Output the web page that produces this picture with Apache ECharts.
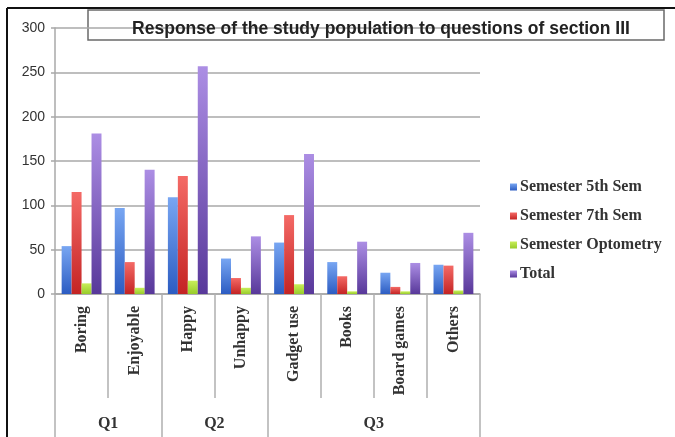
<!DOCTYPE html>
<html>
<head>
<meta charset="utf-8">
<script src="https://cdn.jsdelivr.net/npm/echarts@6/dist/echarts.min.js"></script>
<style>
  html, body { margin: 0; padding: 0; background: #fff; }
  #chart { width: 675px; height: 437px; }
</style>
</head>
<body>
<div id="chart"></div>
<script>
// Answers per option, by semester group
const categories = ['Boring', 'Enjoyable', 'Happy', 'Unhappy', 'Gadget use', 'Books', 'Board games', 'Others'];
const sem5 = [54, 97, 109, 40, 58, 36, 24, 33];
const sem7 = [115, 36, 133, 18, 89, 20, 8, 32];
const optometry = [12, 7, 15, 7, 11, 3, 3, 4];
const total = [181, 140, 257, 65, 158, 59, 35, 69];

// Question groups: label and number of options each spans
const groupNames = ['Q1', 'Q2', 'Q3'];
const groupSizes = [2, 2, 4];

const yTicks = { min: 0, max: 300, interval: 50 };

// Half-slot axis for the question labels: each option is two slots wide
const slotCount = categories.length * 2;
const groupSlots = new Array(slotCount + 1).fill('');
const groupEdges = [0];
let acc = 0;
groupSizes.forEach((n, i) => {
  groupSlots[acc * 2 + n] = groupNames[i];
  acc += n;
  groupEdges.push(acc * 2);
});

const serifFont = '"Liberation Serif", "DejaVu Serif", serif';

function grad(top, bottom) {
  return new echarts.graphic.LinearGradient(0, 0, 0, 1, [
    { offset: 0, color: top },
    { offset: 1, color: bottom }
  ]);
}

const chart = echarts.init(document.getElementById('chart'), null, { renderer: 'canvas' });

chart.setOption({
  animation: false,
  backgroundColor: '#ffffff',
  title: {
    text: 'Response of the study population to questions of section III',
    left: 376,
    top: 15,
    textAlign: 'center',
    textStyle: {
      fontFamily: '"Liberation Sans", Arial, sans-serif',
      fontSize: 17.5,
      fontWeight: 600,
      color: '#222'
    }
  },
  graphic: [
    // outer frame (top and left edges)
    { type: 'line', shape: { x1: 7, y1: 8, x2: 675, y2: 8 }, style: { stroke: '#111', lineWidth: 2 } },
    { type: 'line', shape: { x1: 7, y1: 8, x2: 7, y2: 437 }, style: { stroke: '#111', lineWidth: 2 } },
    // title box
    { type: 'rect', shape: { x: 88, y: 10, width: 576, height: 30 }, style: { fill: 'none', stroke: '#6a6a6a', lineWidth: 1.5 }, z: -1 }
  ],
  legend: {
    orient: 'vertical',
    left: 505,
    top: 174,
    itemWidth: 7,
    itemHeight: 7,
    itemGap: 13,
    icon: 'rect',
    textStyle: { fontFamily: serifFont, fontSize: 16, fontWeight: 'bold', color: '#333', padding: [0, 0, 0, -2] },
    data: ['Semester 5th Sem', 'Semester 7th Sem', 'Semester Optometry', 'Total']
  },
  grid: { left: 55, right: 195, top: 28, bottom: 143, containLabel: false },
  xAxis: [
    {
      type: 'category',
      data: categories,
      axisLine: { lineStyle: { color: '#a8a8a8', width: 1.5 } },
      axisTick: { show: true, alignWithLabel: false, length: 104, lineStyle: { color: '#b0b0b0', width: 1.5 } },
      axisLabel: {
        rotate: 90,
        margin: 12,
        interval: 0,
        fontFamily: serifFont,
        fontSize: 16,
        fontWeight: 'bold',
        color: '#333'
      }
    },
    {
      type: 'category',
      position: 'bottom',
      boundaryGap: false,
      data: groupSlots,
      axisLine: { show: false },
      axisTick: {
        show: true,
        length: 145,
        interval: (idx) => groupEdges.indexOf(idx) >= 0,
        lineStyle: { color: '#b0b0b0', width: 1.5 }
      },
      axisLabel: {
        interval: 0,
        margin: 122,
        fontFamily: serifFont,
        fontSize: 16,
        fontWeight: 'bold',
        color: '#333',
        formatter: (v) => v
      }
    }
  ],
  yAxis: {
    type: 'value',
    min: yTicks.min,
    max: yTicks.max,
    interval: yTicks.interval,
    axisLine: { show: true, lineStyle: { color: '#a8a8a8', width: 1.5 } },
    axisTick: { show: true, length: 4, lineStyle: { color: '#a8a8a8', width: 1.5 } },
    axisLabel: {
      margin: 10,
      fontFamily: '"Liberation Sans", Arial, sans-serif',
      fontSize: 14,
      color: '#333'
    },
    splitLine: { lineStyle: { color: '#a8a8a8', width: 1.5 } }
  },
  series: [
    { name: 'Semester 5th Sem', type: 'bar', data: sem5, barGap: '0%', barCategoryGap: '25%',
      itemStyle: { color: grad('#78a6f2', '#2c5cc2') } },
    { name: 'Semester 7th Sem', type: 'bar', data: sem7,
      itemStyle: { color: grad('#f46a66', '#c42424') } },
    { name: 'Semester Optometry', type: 'bar', data: optometry,
      itemStyle: { color: grad('#c8ee5a', '#98cc2a') } },
    { name: 'Total', type: 'bar', data: total,
      itemStyle: { color: grad('#ac8ee4', '#58389a') } }
  ]
});
</script>
</body>
</html>
